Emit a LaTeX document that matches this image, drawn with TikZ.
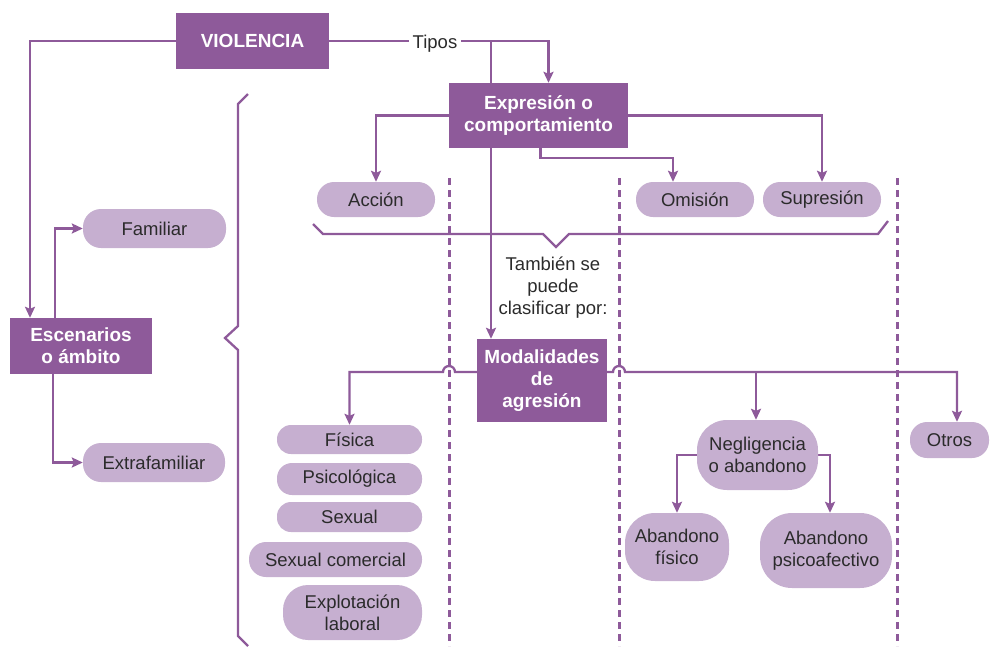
\documentclass[tikz,border=0pt]{standalone}
\usepackage{fontspec}
\setmainfont{Liberation Sans}
\usetikzlibrary{arrows.meta}
\definecolor{dp}{HTML}{8E5A9A}
\definecolor{lp}{HTML}{C6AFD0}
\definecolor{tx}{HTML}{2B2B2B}
\pgfdeclarelayer{bg}
\pgfsetlayers{bg,main}
\begin{document}
\begin{tikzpicture}[x=1pt,y=-1pt,
 dark/.style={fill=dp, text=white, font=\fontsize{19}{22}\selectfont\bfseries, align=center, inner sep=0pt},
 pill/.style={fill=lp, text=tx, font=\fontsize{18.5}{22}\selectfont, align=center, inner sep=0pt, rounded corners=15pt},
 ln/.style={draw=dp, line width=2.3pt},
 arr/.style={ln, -{Stealth[length=11pt,width=10pt,inset=2pt]}},
 sep/.style={draw=dp, line width=3pt, dash pattern=on 7pt off 5pt},
 lbl/.style={text=tx, font=\fontsize{18.5}{22}\selectfont, align=center, inner sep=1pt}
]
\useasboundingbox (0,0) rectangle (990,646);

% dark boxes
\node[dark, minimum width=153pt, minimum height=56pt] (viol) at (252.5,41) {VIOLENCIA};
\node[dark, minimum width=179pt, minimum height=65pt] (expr) at (538.5,115.5) {Expresión o\\comportamiento};
\node[dark, minimum width=142pt, minimum height=56pt] (esc) at (81,346) {Escenarios\\o ámbito};
\node[dark, minimum width=130pt, minimum height=83pt] (mod) at (542,380.5) {Modalidades\\de\\agresión};

% labels
\node[lbl, fill=white, inner xsep=4pt, anchor=mid] (tipos) at (435,46) {Tipos};
\node[lbl] (tamb) at (553,288) {También se\\puede\\clasificar por:};

% pills
\node[pill, minimum width=143pt, minimum height=39pt, rounded corners=18pt] (fam) at (154.5,228.5) {Familiar};
\node[pill, minimum width=142pt, minimum height=39pt, rounded corners=18pt] (ext) at (154,462.5) {Extrafamiliar};
\node[pill, minimum width=118pt, minimum height=35pt, rounded corners=17pt] (acc) at (376,199.5) {Acción};
\node[pill, minimum width=118pt, minimum height=35pt, rounded corners=17pt] (om) at (695,199.5) {Omisión};
\node[pill, minimum width=118pt, minimum height=35pt, rounded corners=17pt] (sup) at (822,199.5) {Supresión};
\node[pill, minimum width=145pt, minimum height=29pt, rounded corners=14pt] (fis) at (349.5,439.5) {Física};
\node[pill, minimum width=145pt, minimum height=32pt, rounded corners=15pt] (psi) at (349.5,479) {Psicológica};
\node[pill, minimum width=145pt, minimum height=30pt, rounded corners=14pt] (sex) at (349.5,517) {Sexual};
\node[pill, minimum width=173pt, minimum height=35pt, rounded corners=17pt] (sexc) at (335.5,559.5) {Sexual comercial};
\node[pill, minimum width=139pt, minimum height=55pt, rounded corners=25pt] (expl) at (352.5,612.5) {Explotación\\laboral};
\node[pill, minimum width=121pt, minimum height=70pt, rounded corners=30pt] (neg) at (757.5,455) {Negligencia\\o abandono};
\node[pill, minimum width=104pt, minimum height=68pt, rounded corners=30pt] (af) at (677,547) {Abandono\\físico};
\node[pill, minimum width=132pt, minimum height=75pt, rounded corners=32pt] (ap) at (826,550.5) {Abandono\\psicoafectivo};
\node[pill, minimum width=79pt, minimum height=36pt, rounded corners=17pt] (oth) at (949.5,440) {Otros};

\coordinate (j1) at (491,41);
\coordinate (jn) at (756,372);
\coordinate (hl) at (455,372);
\coordinate (hr) at (613,372);

\begin{pgfonlayer}{bg}
% separators
\draw[sep] (449,178) -- (449,646);
\draw[sep] (619,178) -- (619,646);
\draw[sep] (897,178) -- (897,646);
% braces
\draw[ln] (248,94) -- (238,104) -- (238,326) -- (225,338) -- (238,350) -- (238,636) -- (248,646);
\draw[ln] (313,224) -- (323,234) -- (543,234) -- (556,247) -- (569,234) -- (878,234) -- (888,221);
% connectors
\draw[arr] (viol.west) -| ([xshift=-51pt]esc.north);
\draw[arr] ([xshift=-26pt]esc.north) |- (fam.west);
\draw[arr] ([xshift=-28pt]esc.south) |- (ext.west);
\draw[ln] (viol.east) -- (viol.east -| tipos.west);
\draw[arr] (tipos.east |- viol.east) -| ([xshift=10pt]expr.north);
\draw[arr] (j1) -- (j1 |- mod.north);
\draw[arr] (expr.west) -| (acc.north);
\draw[arr] ([xshift=2pt]expr.south) -- ++(0,10) -| ([xshift=-22pt]om.north);
\draw[arr] (expr.east) -| (sup.north);
\draw[arr] ([yshift=8.5pt]mod.west) -- (hl) arc[start angle=0, end angle=180, radius=6pt] -| (fis.north);
\draw[arr] ([yshift=8.5pt]mod.east) -- (hr) arc[start angle=180, end angle=0, radius=6pt] -| ([xshift=7.5pt]oth.north);
\draw[arr] (jn) -- (jn |- neg.north);
\draw[arr] (neg.west) -| (af.north);
\draw[arr] (neg.east) -| ([xshift=4pt]ap.north);
\end{pgfonlayer}
\end{tikzpicture}
\end{document}
